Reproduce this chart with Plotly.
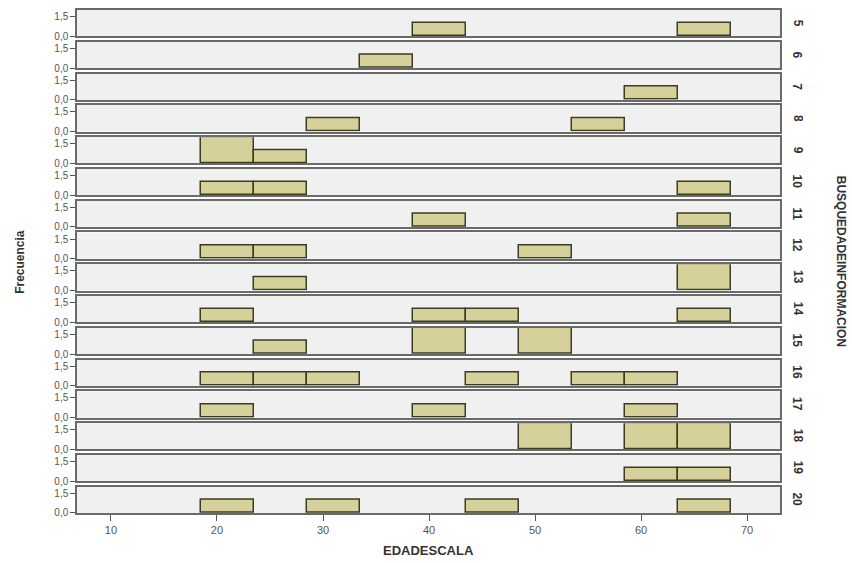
import plotly.graph_objects as go
from plotly.subplots import make_subplots

groups = ["5", "6", "7", "8", "9", "10", "11", "12", "13", "14", "15", "16", "17", "18", "19", "20"]
# bin centres (EDADESCALA, bins of width 5) and frequencies for each group
bin_centers = {
    "5": [41, 66], "6": [36], "7": [61], "8": [31, 56], "9": [21, 26],
    "10": [21, 26, 66], "11": [41, 66], "12": [21, 26, 51], "13": [26, 66],
    "14": [21, 41, 46, 66], "15": [26, 41, 51], "16": [21, 26, 31, 46, 56, 61],
    "17": [21, 41, 61], "18": [51, 61, 66], "19": [61, 66], "20": [21, 31, 46, 66],
}
frequencies = {
    "5": [1, 1], "6": [1], "7": [1], "8": [1, 1], "9": [2, 1],
    "10": [1, 1, 1], "11": [1, 1], "12": [1, 1, 1], "13": [1, 2],
    "14": [1, 1, 1, 1], "15": [1, 2, 2], "16": [1, 1, 1, 1, 1, 1],
    "17": [1, 1, 1], "18": [2, 2, 2], "19": [1, 1], "20": [1, 1, 1, 1],
}
bin_width = 5
x_ticks = [10, 20, 30, 40, 50, 60, 70]
y_tickvals = [0, 1.5]
y_ticktext = ["0,0", "1,5"]

FONT = "Liberation Sans, Arial"
n = len(groups)
fig = make_subplots(rows=n, cols=1, shared_xaxes=True, vertical_spacing=0.011)

for i, g in enumerate(groups):
    fig.add_trace(go.Bar(
        x=bin_centers[g], y=frequencies[g], width=[bin_width] * len(bin_centers[g]),
        marker=dict(color="#d6d09a", line=dict(color="#3c3c22", width=1.5)),
        showlegend=False, hoverinfo="x+y"), row=i + 1, col=1)
    fig.update_yaxes(range=[0, 2.0], tickvals=y_tickvals, ticktext=y_ticktext,
                     ticks="outside", ticklen=5, tickcolor="#555", showgrid=False,
                     zeroline=False, showline=True, mirror=True, linecolor="#6a6a6a",
                     linewidth=1.5, tickfont=dict(size=10, color="#555", family=FONT),
                     row=i + 1, col=1)
    fig.update_xaxes(range=[6.8, 73.1], showgrid=False, zeroline=False, showline=True,
                     mirror=True, linecolor="#6a6a6a", linewidth=1.5,
                     showticklabels=(i == n - 1), ticks="outside" if i == n - 1 else "",
                     tickvals=x_ticks, ticklen=6, tickcolor="#555",
                     tickfont=dict(size=11, color="#555", family=FONT),
                     row=i + 1, col=1)
    dom = fig.layout[f"yaxis{'' if i == 0 else i + 1}"].domain
    fig.add_annotation(x=1.012, y=(dom[0] + dom[1]) / 2, xref="paper", yref="paper",
                       text=f"<b>{g}</b>", showarrow=False, textangle=90,
                       xanchor="left", yanchor="middle",
                       font=dict(size=12, color="#333", family=FONT))

fig.add_annotation(x=1.075, y=0.5, xref="paper", yref="paper",
                   text="<b>BUSQUEDADEINFORMACION</b>", showarrow=False, textangle=90,
                   xanchor="left", yanchor="middle",
                   font=dict(size=12, color="#333", family=FONT))
fig.add_annotation(x=-0.082, y=0.5, xref="paper", yref="paper",
                   text="<b>Frecuencia</b>", showarrow=False, textangle=-90,
                   xanchor="center", yanchor="middle",
                   font=dict(size=12, color="#333", family=FONT))
fig.add_annotation(x=0.5, y=-0.075, xref="paper", yref="paper",
                   text="<b>EDADESCALA</b>", showarrow=False,
                   xanchor="center", yanchor="middle",
                   font=dict(size=13, color="#333", family=FONT))

fig.update_layout(template="none", width=852, height=563,
                  margin=dict(l=77, r=72, t=10, b=50),
                  font=dict(family=FONT, color="#555"),
                  plot_bgcolor="#f0f0f0", paper_bgcolor="white", bargap=0)

fig.write_html("out.html", config={"displayModeBar": False},
               post_script="document.body.style.margin='0';document.body.style.overflow='hidden';")
